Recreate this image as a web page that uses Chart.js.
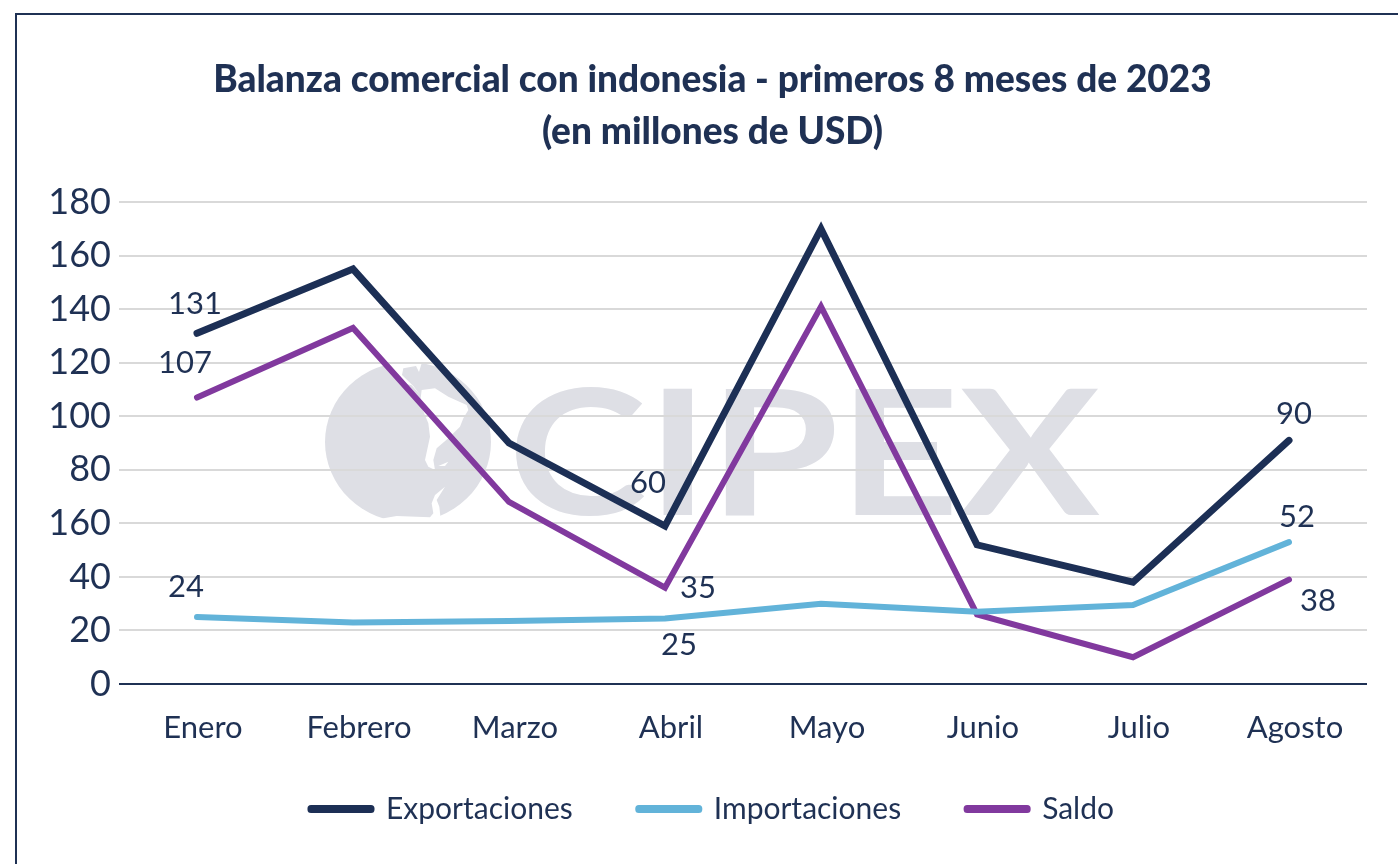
<!DOCTYPE html>
<html lang="es">
<head>
<meta charset="utf-8">
<title>Balanza comercial con Indonesia</title>
<script src="https://cdn.jsdelivr.net/npm/chart.js@4"></script>
<style>
html, body { margin: 0; padding: 0; background: #fff; overflow: hidden; }
#wrap { position: relative; width: 1398px; height: 864px; overflow: hidden; }
#frame { position: absolute; left: 15px; top: 13px; width: 1500px; height: 1000px; border: 2px solid #1f3154; }
#chartCanvas { position: absolute; left: 0; top: 0; }
</style>
</head>
<body>
<div id="wrap">
<div id="frame"></div>
<canvas id="chartCanvas" width="1398" height="864"></canvas>
</div>
<script>
// Data
var months = ["Enero", "Febrero", "Marzo", "Abril", "Mayo", "Junio", "Julio", "Agosto"];
var exportaciones = [131, 155, 90, 59, 170, 52, 38, 91];
var importaciones = [25, 23, 23.5, 24.5, 30, 27, 29.5, 53];
var saldo = [107, 133, 68, 36, 141, 26, 10, 39];
var yTickValues = [180, 160, 140, 120, 100, 80, 60, 40, 20, 0];
// the source really prints 160 where 60 should be
var yTickLabels = ["180", "160", "140", "120", "100", "80", "160", "40", "20", "0"];

var navy = "#1f3154";
var FONT = "Lato";

// [dataset, point, text, dx, dy]
var pointLabels = [
	[0, 0, "131", -2, -29],
	[2, 0, "107", -12, -35],
	[1, 0, "24", -11, -30],
	[0, 3, "60", -17, -43],
	[2, 3, "35", 33, 0],
	[1, 3, "25", 14, 27],
	[0, 7, "90", 5, -26],
	[1, 7, "52", 8, -25],
	[2, 7, "38", 29, 21]
];

// White land shapes cut out of the globe in the logo
var landShapes = [
	[[188,12],[205,32],[250,70],[275,76],[300,104],[280,78],[246,45],[250,25],[288,18],[297,36],[305,10]],
	[[305,90],[345,85],[385,110],[440,135],[445,150],[430,175],[420,200],[385,235],[350,265],[340,300],[345,330],[325,320],[315,300],[330,230],[325,190],[300,130]],
	[[355,318],[385,305],[375,318]],
	[[375,380],[345,405],[335,430],[340,460],[330,472],[230,468],[160,480],[160,505],[365,505],[358,440],[350,420]]
];

// Grey CIPEX logo behind the plot
var watermark = {
	id: "watermark",
	beforeDraw: function(chart) {
		var c = chart.ctx;
		c.save();
		c.fillStyle = "#dedfe5";
		c.beginPath();
		c.ellipse(408, 442, 83, 80, 0, 0, Math.PI * 2);
		c.fill();

		c.fillStyle = "#fff";
		landShapes.forEach(function(shape) {
			c.beginPath();
			shape.forEach(function(p, i) {
				var px = 320 + p[0] / 3;
				var py = 360 + p[1] / 3;
				if (i == 0) c.moveTo(px, py);
				else c.lineTo(px, py);
			});
			c.closePath();
			c.fill();
		});

		c.fillStyle = "#dedfe5";
		c.font = "700 174px " + FONT;
		c.textAlign = "left";
		c.textBaseline = "alphabetic";
		c.translate(508, 515);
		c.scale(592 / c.measureText("CIPEX").width, 1);
		c.fillText("CIPEX", 0, 0);
		c.restore();
	}
};

// Hand placed value labels, only some points carry one
var valueLabels = {
	id: "valueLabels",
	afterDatasetsDraw: function(chart) {
		var c = chart.ctx;
		var xs = chart.scales.x;
		var ys = chart.scales.y;
		c.save();
		c.fillStyle = navy;
		c.font = "400 31px " + FONT;
		c.textAlign = "center";
		c.textBaseline = "middle";
		pointLabels.forEach(function(l) {
			var v = chart.data.datasets[l[0]].data[l[1]];
			c.fillText(l[2], xs.getPixelForValue(l[1]) + l[3], ys.getPixelForValue(v) + l[4]);
		});
		c.restore();
	}
};

// Scales were squeezed with afterFit, give the tick labels their room back
var scaleRoom = {
	id: "scaleRoom",
	afterLayout: function(chart) {
		chart.scales.y.left = 0;
		chart.scales.x.bottom = chart.height;
	}
};

function lineSet(label, data, color, width) {
	return {
		label: label,
		data: data,
		borderColor: color,
		backgroundColor: color,
		borderWidth: width,
		borderCapStyle: "round",
		borderJoinStyle: "miter",
		tension: 0,
		pointRadius: 0,
		fill: false
	};
}

var chart = new Chart(document.getElementById("chartCanvas").getContext("2d"), {
	type: "line",
	data: {
		labels: months,
		datasets: [
			lineSet("Exportaciones", exportaciones, "#1c2f55", 7),
			lineSet("Importaciones", importaciones, "#62b3d9", 6),
			lineSet("Saldo", saldo, "#81399e", 6)
		]
	},
	options: {
		responsive: false,
		animation: false,
		layout: { padding: { left: 58, right: 31, top: 55, bottom: 30 } },
		plugins: {
			title: {
				display: true,
				text: ["Balanza comercial con indonesia - primeros 8 meses de 2023", "(en millones de USD)"],
				color: navy,
				font: { family: FONT, size: 37, weight: "900", lineHeight: 1.38 },
				padding: { top: 0, bottom: 45 }
			},
			legend: {
				position: "bottom",
				labels: {
					color: navy,
					font: { family: FONT, size: 30 },
					boxWidth: 60,
					boxHeight: 1,
					padding: 66,
					generateLabels: function(chart) {
						var items = Chart.defaults.plugins.legend.labels.generateLabels(chart);
						items.forEach(function(it) { it.lineWidth = 7; it.lineJoin = "round"; });
						return items;
					}
				}
			},
			tooltip: { enabled: false }
		},
		scales: {
			x: {
				offset: true,
				afterFit: function(scale) { scale.height = 44; },
				grid: { display: false },
				border: { display: false },
				ticks: { color: navy, font: { family: FONT, size: 31 }, padding: 17, labelOffset: 6, maxRotation: 0 }
			},
			y: {
				min: 0,
				max: 180,
				afterFit: function(scale) { scale.width = 61; },
				afterBuildTicks: function(scale) {
					scale.ticks = yTickValues.map(function(v) { return { value: v }; });
				},
				grid: {
					drawTicks: false,
					lineWidth: 2,
					color: function(ctx) { return ctx.tick && ctx.tick.value === 0 ? navy : "#d9d9d9"; }
				},
				border: { display: false },
				ticks: {
					color: navy,
					font: { family: FONT, size: 36 },
					padding: 8,
					callback: function(value) { return yTickLabels[yTickValues.indexOf(value)]; }
				}
			}
		}
	},
	plugins: [watermark, valueLabels, scaleRoom]
});
</script>
</body>
</html>
